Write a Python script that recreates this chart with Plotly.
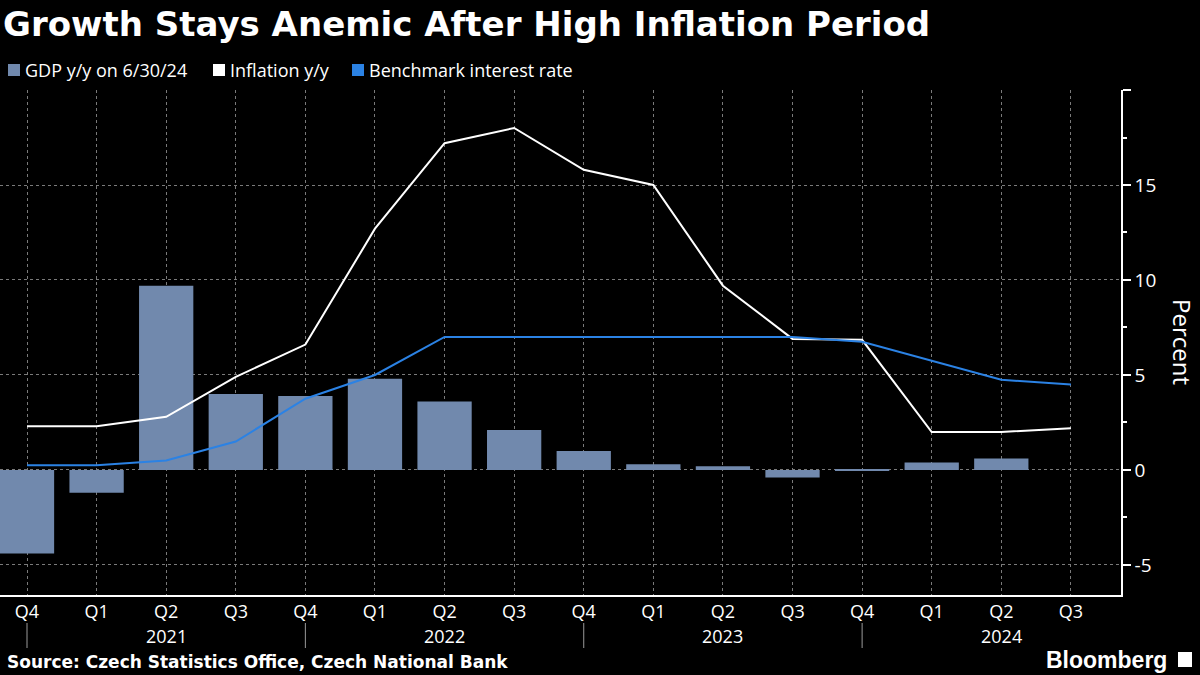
import plotly.graph_objects as go

quarters = ["Q4", "Q1", "Q2", "Q3", "Q4", "Q1", "Q2", "Q3", "Q4", "Q1", "Q2", "Q3", "Q4", "Q1", "Q2", "Q3"]
years = ["2021", "2022", "2023", "2024"]
year_pos = [2, 6, 10, 14]
year_sep = [0, 4, 8, 12]
gdp = [-4.4, -1.2, 9.7, 4.0, 3.9, 4.8, 3.6, 2.1, 1.0, 0.3, 0.2, -0.4, -0.05, 0.4, 0.6, None]
inflation = [2.3, 2.3, 2.8, 4.9, 6.6, 12.7, 17.2, 18.0, 15.8, 15.0, 9.7, 6.9, 6.85, 2.0, 2.0, 2.2]
rate = [0.25, 0.25, 0.5, 1.5, 3.75, 5.0, 7.0, 7.0, 7.0, 7.0, 7.0, 7.0, 6.75, 5.75, 4.75, 4.5]
y_ticks = [-5, 0, 5, 10, 15, 20]
y_ticktext = ["-5", "0", "5", "10", "15", ""]
legend_names = ["GDP y/y on 6/30/24", "Inflation y/y", "Benchmark interest rate"]

BAR = "#7189ad"
BLUE = "#2b82e4"
FONT = "Open Sans"
x = list(range(len(quarters)))

PW, PT, PB = 1121, 90, 595
PH = PB - PT


def px(v):
    return v / PW


def py(v):
    return (PB - v) / PH


fig = go.Figure()
fig.add_trace(go.Bar(x=x, y=gdp, marker=dict(color=BAR, line=dict(width=0)), width=0.78,
                     name=legend_names[0], showlegend=False))
fig.add_trace(go.Scatter(x=x, y=inflation, mode="lines", line=dict(color="white", width=2),
                         name=legend_names[1], showlegend=False))
fig.add_trace(go.Scatter(x=x, y=rate, mode="lines", line=dict(color=BLUE, width=2),
                         name=legend_names[2], showlegend=False))

fig.update_layout(
    width=1200, height=675,
    paper_bgcolor="black", plot_bgcolor="black",
    margin=dict(l=0, r=1200 - PW, t=PT, b=675 - PB, autoexpand=False),
    font=dict(family=FONT, color="white", size=17),
    title=dict(text="<b>Growth Stays Anemic After High Inflation Period</b>",
               x=3 / 1200, xanchor="left", y=1 - 24 / 675, yanchor="middle",
               font=dict(family="DejaVu Sans", size=34, color="white")),
    showlegend=False,
    xaxis=dict(range=[-0.388, 15.72], tickvals=x, ticktext=quarters, showgrid=True,
               gridcolor="#7a7a7a", griddash="dot", gridwidth=1,
               showline=True, linecolor="white", linewidth=1.5,
               ticks="", zeroline=False,
               tickfont=dict(size=18, color="white", family=FONT)),
    yaxis=dict(side="right", range=[-6.58, 20], tickvals=y_ticks, ticktext=y_ticktext,
               showgrid=True, gridcolor="#7a7a7a", griddash="dot", gridwidth=1,
               zeroline=False, showline=True, linecolor="white", linewidth=1.5,
               ticks="outside", ticklen=8, tickwidth=2, tickcolor="white",
               minor=dict(tickvals=[-2.5, 2.5, 7.5, 12.5, 17.5], ticks="outside", ticklen=4,
                          tickcolor="white", showgrid=False),
               tickfont=dict(size=19, color="white", family=FONT)),
)

# legend (squares + labels)
legend_cols = [BAR, "white", BLUE]
legend_sq_x = [8, 213, 352]
for name, col, sx in zip(legend_names, legend_cols, legend_sq_x):
    fig.add_shape(type="rect", xref="paper", yref="paper", x0=px(sx), x1=px(sx + 12),
                  y0=py(76), y1=py(64), fillcolor=col, line=dict(width=0))
    fig.add_annotation(x=px(sx + 15), y=py(70), xref="paper", yref="paper", xanchor="left",
                       yanchor="middle", text=name, showarrow=False,
                       font=dict(size=18, color="white", family=FONT))

# year labels and separators
for yr, pos in zip(years, year_pos):
    fig.add_annotation(x=pos, y=py(636), xref="x", yref="paper", text=yr, showarrow=False,
                       font=dict(size=18, color="white", family=FONT), yanchor="middle")
for pos in year_sep:
    fig.add_shape(type="line", x0=pos, x1=pos, xref="x", yref="paper",
                  y0=py(623), y1=py(648), line=dict(color="#9a9a9a", width=1))

fig.add_annotation(x=px(1183), y=py(342), xref="paper", yref="paper", text="Percent",
                   xanchor="center", yanchor="middle",
                   textangle=90, showarrow=False, font=dict(size=24, color="white", family=FONT))
fig.add_annotation(x=px(5), y=py(662), xref="paper", yref="paper", xanchor="left", yanchor="middle",
                   text="<b>Source: Czech Statistics Office, Czech National Bank</b>", showarrow=False,
                   font=dict(size=17, color="white", family="DejaVu Sans"))
fig.add_annotation(x=px(1169), y=py(660), xref="paper", yref="paper", xanchor="right", yanchor="middle",
                   text="<b>Bloomberg</b>", showarrow=False,
                   font=dict(size=23, color="white", family="Liberation Sans"))
fig.add_shape(type="rect", xref="paper", yref="paper", x0=px(1178), x1=px(1192),
              y0=py(667), y1=py(652), fillcolor="white", line=dict(width=0))

fig.write_html("out.html", config={"displayModeBar": False},
               post_script="document.body.style.margin='0px';")
